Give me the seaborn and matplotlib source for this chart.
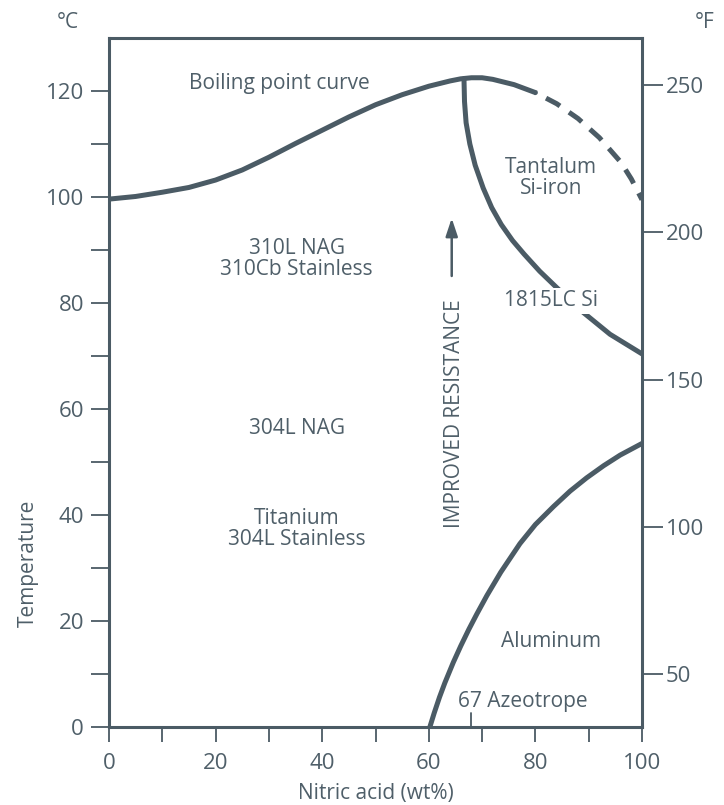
import numpy as np
import pandas as pd
import matplotlib.pyplot as plt
import seaborn as sns

# Boiling point curve (solid part), wt% vs degC
boil_x = [0, 5, 10, 15, 20, 25, 30, 35, 40, 45, 50, 55, 60, 64, 66, 68, 70, 72, 76, 80]
boil_y = [99.6, 100.1, 100.9, 101.8, 103.2, 105.1, 107.5, 110.1, 112.6, 115.1,
          117.4, 119.3, 120.9, 121.9, 122.3, 122.5, 122.5, 122.2, 121.2, 119.7]

# Boiling point curve (dashed, extrapolated part)
boil_dash_x = [80, 84, 88, 92, 96, 98, 100]
boil_dash_y = [119.7, 117.6, 114.8, 111.2, 106.6, 103.4, 99.5]

# Tantalum / Si-iron boundary
tant_x = [66.6, 66.7, 67.0, 67.7, 68.7, 70.2, 71.8, 73.6, 75.7, 77.9, 80.8, 84.0, 89.0, 94.0, 100]
tant_y = [122.3, 118.0, 114.0, 110.0, 106.0, 101.7, 98.0, 94.8, 91.8, 89.2, 86.0, 82.9, 78.2, 74.1, 70.4]

# Aluminum boundary
alu_x = [60.2, 61.0, 62.0, 63.0, 64.6, 66.0, 67.5, 69.0, 70.9, 73.5, 77.1, 80.0,
         83.4, 86.5, 89.6, 92.8, 95.9, 100]
alu_y = [0, 2.6, 5.6, 8.3, 12.2, 15.3, 18.4, 21.3, 24.8, 29.2, 34.6, 38.2,
         41.6, 44.5, 47.0, 49.3, 51.3, 53.5]

azeotrope = 68

c_ticks = [0, 20, 40, 60, 80, 100, 120]
f_ticks = [50, 100, 150, 200, 250]

# region labels: (text, x, y)
labels = [
    ("Boiling point curve", 31.9, 121.5),
    ("310L NAG\n310Cb Stainless", 35.2, 88.3),
    ("304L NAG", 35.2, 56.3),
    ("Titanium\n304L Stainless", 35.2, 37.3),
    ("Tantalum\nSi-iron", 82.9, 103.5),
    ("Aluminum", 83.0, 16.1),
    ("67 Azeotrope", 77.7, 4.8),
]

COL = "#4b5b65"
TXT = "#4f5f69"

sns.set_theme(style="white")
plt.rcParams['font.family'] = ['Open Sans', 'DejaVu Sans']
plt.rcParams['text.color'] = TXT
plt.rcParams['axes.labelcolor'] = TXT

fig = plt.figure(figsize=(7.24, 8.05), dpi=100)
ax = fig.add_axes([109 / 724, 1 - 727 / 805, (642 - 109) / 724, (727 - 38) / 805])

lw = 3.6
sns.lineplot(x=boil_x, y=boil_y, ax=ax, color=COL, linewidth=lw, sort=False)
sns.lineplot(x=boil_dash_x, y=boil_dash_y, ax=ax, color=COL, linewidth=lw, sort=False)
dash_line = ax.lines[-1]
dash_line.set_linestyle((3.0, (3.2, 2.2)))
dash_line.set_dash_capstyle('butt')
sns.lineplot(x=tant_x, y=tant_y, ax=ax, color=COL, linewidth=lw, sort=False)
sns.lineplot(x=alu_x, y=alu_y, ax=ax, color=COL, linewidth=lw, sort=False)
for ln in ax.lines:
    ln.set_solid_joinstyle('round')

ax.set_xlim(0, 100)
ax.set_ylim(0, 130)

for s in ax.spines.values():
    s.set_color(COL)
    s.set_linewidth(2.2)

ax.set_xticks([0, 20, 40, 60, 80, 100])
ax.set_xticks([10, 30, 50, 70, 90], minor=True)
ax.set_yticks(c_ticks)
ax.set_yticks([10, 30, 50, 70, 90, 110], minor=True)
ax.tick_params(axis='x', which='both', direction='out', length=11, width=1.3,
               labelsize=16, pad=8, bottom=True, top=False, colors=COL, labelcolor=TXT)
ax.tick_params(axis='y', which='both', direction='out', length=13, width=1.3,
               labelsize=16, pad=5, left=True, right=False, colors=COL, labelcolor=TXT)

ax.set_xlabel("Nitric acid (wt%)", fontsize=15, labelpad=6)
ax.set_ylabel("Temperature", fontsize=15)
ax.yaxis.set_label_coords(-0.132, 0.237)

# right axis in degF
ax2 = ax.twinx()
ax2.set_ylim(0 * 9 / 5 + 32, 130 * 9 / 5 + 32)
ax2.set_yticks(f_ticks)
ax2.tick_params(axis='y', direction='out', length=15, width=1.3, labelsize=16,
                pad=2, colors=COL, labelcolor=TXT)
for s in ax2.spines.values():
    s.set_visible(False)
ax2.grid(False)
ax.grid(False)

# azeotrope marker tick
ax.axvline(azeotrope, ymin=0, ymax=0.02, color=COL, linewidth=1.3)

for text, x, y in labels:
    ax.text(x, y, text, ha='center', va='center', fontsize=15, color=TXT,
            linespacing=1.0)

ax.text(83.0, 80.4, "1815LC Si", ha='center', va='center', fontsize=15, color=TXT,
        zorder=5, bbox=dict(facecolor='white', edgecolor='none', pad=2))

ax.text(64.9, 59.1, "IMPROVED RESISTANCE", rotation=90, ha='center', va='center',
        fontsize=15, color=TXT)
ax.annotate('', xy=(64.3, 96.0), xytext=(64.3, 85.1),
            arrowprops=dict(arrowstyle='-|>,head_length=0.9,head_width=0.3',
                            color=COL, linewidth=1.8, shrinkA=0, shrinkB=0))

fig.text(68 / 724, 1 - 22 / 805, "°C", ha='center', va='center', fontsize=15, color=TXT)
fig.text(705 / 724, 1 - 22 / 805, "°F", ha='center', va='center', fontsize=15, color=TXT)

fig.savefig("out.png", dpi=100, facecolor='white')
